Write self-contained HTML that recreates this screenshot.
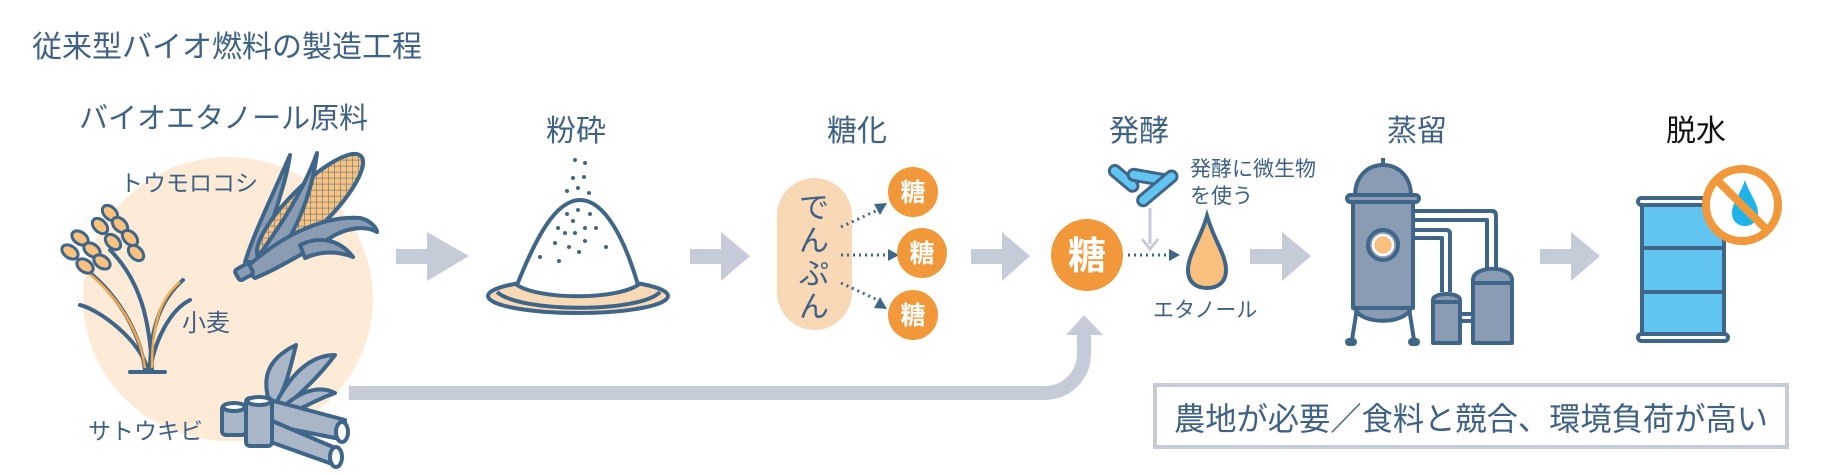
<!DOCTYPE html>
<html><head><meta charset="utf-8"><style>
html,body{margin:0;padding:0;background:#fff;}
svg{display:block}
text{font-family:"Liberation Sans","Noto Sans CJK JP",sans-serif;fill:#3f6184}
</style></head><body>
<svg width="1835" height="475" viewBox="0 0 1835 475" xmlns="http://www.w3.org/2000/svg">
<defs>
<pattern id="grid" width="6" height="6" patternUnits="userSpaceOnUse" patternTransform="rotate(45)">
<rect width="6" height="6" fill="#f9c27f"/><path d="M0 0 H6 M0 0 V6" stroke="#3f6688" stroke-width="1"/>
</pattern>
</defs>
<text x="32" y="57" font-size="30">従来型バイオ燃料の製造工程</text>
<text x="79" y="128" font-size="29">バイオエタノール原料</text>
<ellipse cx="228" cy="299" rx="145" ry="142" fill="#fdebd8"/>
<text x="120" y="191" font-size="23">トウモロコシ</text>
<text x="182" y="331" font-size="24">小麦</text>
<text x="88" y="439" font-size="23">サトウキビ</text>
<!-- corn -->
<g stroke="#3f6688" stroke-width="4" stroke-linejoin="round">
<path d="M290 155 C275 190 255 230 245 262 L262 262 C270 220 285 190 290 155 Z" fill="#8a9cb3"/>
<ellipse cx="310" cy="207" rx="72" ry="21" transform="rotate(-45 310 207)" fill="url(#grid)"/>
<path d="M317 153 C300 200 270 240 250 268 L270 268 C295 235 312 195 317 153 Z" fill="#8a9cb3"/>
<path d="M244 270 C275 240 320 215 360 218 C370 220 377 228 377 232 C365 225 345 228 330 238 C300 255 275 270 255 278 Z" fill="#8a9cb3"/>
<path d="M300 245 C320 235 340 240 353 257 C335 250 318 252 305 258 Z" fill="#8a9cb3"/>
<rect x="236" y="266" width="16" height="12" rx="3" fill="#8a9cb3" transform="rotate(-30 244 272)"/>
</g>
<!-- wheat -->
<g stroke="#3f6688" stroke-width="4" fill="none" stroke-linecap="round">
<path d="M145 370 C140 330 115 290 80 265"/>
<path d="M152 370 C150 320 140 280 110 250"/>
<path d="M150 370 C150 330 160 300 183 280"/>
<path d="M148 370 C140 340 100 310 80 305"/>
<path d="M150 370 C155 340 170 310 190 300"/>
<path d="M130 372 L165 372"/>
</g>
<g stroke="#f5a94a" stroke-width="2.5" fill="none">
<path d="M145 368 C140 330 115 292 82 268"/><path d="M152 368 C152 330 158 300 180 282"/>
</g>
<g fill="#f9c27f" stroke="#3f6688" stroke-width="3">
<ellipse cx="80" cy="238" rx="9" ry="6" transform="rotate(35 80 238)"/>
<ellipse cx="92" cy="250" rx="9" ry="6" transform="rotate(35 92 250)"/>
<ellipse cx="70" cy="252" rx="9" ry="6" transform="rotate(35 70 252)"/>
<ellipse cx="102" cy="262" rx="9" ry="6" transform="rotate(35 102 262)"/>
<ellipse cx="85" cy="266" rx="9" ry="6" transform="rotate(35 85 266)"/>
<ellipse cx="110" cy="213" rx="9" ry="6" transform="rotate(45 110 213)"/>
<ellipse cx="120" cy="225" rx="9" ry="6" transform="rotate(45 120 225)"/>
<ellipse cx="100" cy="226" rx="9" ry="6" transform="rotate(45 100 226)"/>
<ellipse cx="130" cy="238" rx="9" ry="6" transform="rotate(45 130 238)"/>
<ellipse cx="113" cy="242" rx="9" ry="6" transform="rotate(45 113 242)"/>
<ellipse cx="136" cy="253" rx="9" ry="6" transform="rotate(45 136 253)"/>
</g>
<!-- sugarcane -->
<g stroke="#3f6688" stroke-width="4" stroke-linejoin="round">
<path d="M270 405 C262 380 265 360 296 345 C290 370 285 390 275 405 Z" fill="#a9b6c8"/>
<path d="M275 405 C290 375 310 355 335 355 C320 375 300 395 280 410 Z" fill="#a9b6c8"/>
<path d="M280 410 C300 390 320 385 335 393 C315 400 300 410 285 415 Z" fill="#a9b6c8"/>
<path d="M270 400 L345 420 L345 440 L270 425 Z" fill="#a9b6c8"/>
<path d="M270 420 L340 450 L335 465 L265 440 Z" fill="#a9b6c8"/>
<ellipse cx="342" cy="432" rx="6" ry="10" fill="#fff"/>
<ellipse cx="336" cy="457" rx="6" ry="10" fill="#fff"/>
<rect x="222" y="405" width="24" height="30" rx="4" fill="#a9b6c8"/>
<ellipse cx="234" cy="407" rx="11" ry="4" fill="#fff"/>
<rect x="246" y="398" width="26" height="48" rx="4" fill="#a9b6c8"/>
<ellipse cx="259" cy="401" rx="12" ry="4" fill="#fff"/>
</g>
<!-- big arrows -->
<g fill="#c5ccd8">
<path d="M396 249 H427 V232 L469 256 L427 281 V264 H396 Z"/>
<path d="M690 249 H721 V232 L750 256 L721 281 V264 H690 Z"/>
<path d="M971 249 H1002 V232 L1030 256 L1002 281 V264 H971 Z"/>
<path d="M1250 249 H1282 V232 L1311 256 L1282 281 V264 H1250 Z"/>
<path d="M1540 249 H1571 V232 L1600 256 L1571 281 V264 H1540 Z"/>
<path d="M349 386 H1045 A32 32 0 0 0 1077 354 V335 H1066 L1084 315 L1103 335 H1091 V354 A46 46 0 0 1 1045 400 H349 Z"/>
</g>
<text x="546" y="141" font-size="30">粉砕</text>
<text x="827" y="141" font-size="30">糖化</text>
<text x="1109" y="141" font-size="30">発酵</text>
<text x="1387" y="141" font-size="30">蒸留</text>
<text x="1666" y="141" font-size="30" style="fill:#111">脱水</text>
<!-- plate & pile -->
<g stroke="#3f6688" stroke-width="4">
<ellipse cx="578" cy="296" rx="90" ry="17" fill="#f9d9b5"/>
<path d="M497 292 C520 313 640 313 660 292" fill="none"/>
<path d="M517 285 C535 240 555 200 580 200 C605 200 625 240 638 285 C615 300 540 300 517 285 Z" fill="#fff"/>
</g>
<g fill="#3f6688">
<circle cx="575" cy="160" r="2"/><circle cx="585" cy="163" r="2"/><circle cx="573" cy="178" r="2"/><circle cx="584" cy="177" r="2"/>
<circle cx="567" cy="191" r="2"/><circle cx="578" cy="188" r="2"/><circle cx="589" cy="193" r="2"/>
<circle cx="567" cy="214" r="2"/><circle cx="578" cy="210" r="2"/><circle cx="590" cy="214" r="2"/><circle cx="573" cy="221" r="2"/>
<circle cx="558" cy="228" r="2"/><circle cx="565" cy="233" r="2"/><circle cx="575" cy="233" r="2"/><circle cx="585" cy="228" r="2"/><circle cx="596" cy="228" r="2"/>
<circle cx="555" cy="243" r="2"/><circle cx="569" cy="247" r="2"/><circle cx="585" cy="241" r="2"/><circle cx="606" cy="247" r="2"/>
<circle cx="540" cy="257" r="2"/><circle cx="559" cy="261" r="2"/><circle cx="579" cy="252" r="2"/>
</g>
<!-- starch pill -->
<rect x="777" y="178" width="75" height="152" rx="37.5" fill="#f9d9b5"/>
<text x="814" y="218" font-size="30" text-anchor="middle">で</text>
<text x="814" y="251" font-size="30" text-anchor="middle">ん</text>
<text x="814" y="284" font-size="30" text-anchor="middle">ぷ</text>
<text x="814" y="317" font-size="30" text-anchor="middle">ん</text>
<g stroke="#3f6688" stroke-width="3" stroke-dasharray="2 4" fill="none">
<path d="M841 227 L880 209"/><path d="M841 255 L890 255"/><path d="M841 283 L880 301"/>
<path d="M1128 255 L1170 255"/>
</g>
<g fill="#3f6688">
<path d="M887 203 L874 204 L880 215 Z"/><path d="M899 255 L888 249 L888 261 Z"/><path d="M887 309 L880 297 L874 308 Z"/>
<path d="M1180 255 L1169 249 L1169 261 Z"/>
</g>
<g fill="#f0983a">
<circle cx="913" cy="192" r="25"/><circle cx="922" cy="253" r="25"/><circle cx="913" cy="315" r="25"/>
<circle cx="1087" cy="255" r="36"/>
</g>
<g font-size="25" text-anchor="middle" font-weight="bold">
<text x="913" y="201" style="fill:#fff">糖</text><text x="922" y="262" style="fill:#fff">糖</text><text x="913" y="324" style="fill:#fff">糖</text>
<text x="1087" y="269" font-size="38" style="fill:#fff">糖</text>
</g>
<!-- bacteria -->
<g stroke="#3f6688" stroke-width="3" fill="#62c5ef">
<rect x="1107" y="173" width="34" height="11" rx="5.5" transform="rotate(40 1124 178)"/>
<rect x="1128" y="172" width="42" height="11" rx="5.5" transform="rotate(10 1149 177)"/>
<rect x="1133" y="183" width="48" height="11" rx="5.5" transform="rotate(-40 1157 188)"/>
</g>
<text x="1190" y="176" font-size="21">発酵に微生物</text>
<text x="1190" y="203" font-size="21">を使う</text>
<path d="M1150 208 V244" stroke="#c5ccd8" stroke-width="3"/>
<path d="M1142 239 L1150 249 L1158 239" stroke="#c5ccd8" stroke-width="3" fill="none"/>
<path d="M1207 216 C1200 240 1188 255 1188 270 C1188 283 1197 288 1207 288 C1217 288 1226 283 1226 270 C1226 255 1214 240 1207 216 Z" fill="#f9bf7e" stroke="#3f6688" stroke-width="4"/>
<text x="1153" y="317" font-size="21">エタノール</text>
<!-- distiller -->
<g stroke="#3f6688" stroke-width="4" fill="#8a9cb3" stroke-linejoin="round">
<path d="M1355 196 C1355 176 1368 165 1383 165 C1398 165 1411 176 1411 196 Z"/>
<line x1="1383" y1="158" x2="1383" y2="165"/>
<path d="M1415 211 H1492 Q1496 211 1496 216 V268 M1415 220 H1487 V268" fill="none"/>
<path d="M1415 230 H1446 Q1450 230 1450 234 V292 M1415 238 H1442 V292" fill="none"/>
<rect x="1353" y="202" width="60" height="106"/>
<path d="M1355 308 C1360 325 1405 325 1411 308 Z"/>
<path d="M1357 308 L1352 340 M1409 308 L1414 340" fill="none"/>
<rect x="1347" y="340" width="8" height="4" rx="2"/><rect x="1410" y="340" width="8" height="4" rx="2"/>
<rect x="1347" y="195" width="72" height="7" rx="3.5"/>
<circle cx="1383" cy="245" r="15"/>
<circle cx="1383" cy="245" r="10" fill="#f9bf7e" stroke="#fff" stroke-width="2.5"/>
<path d="M1433 343 V300 C1433 292 1460 292 1460 300 V343 Z"/>
<line x1="1433" y1="302" x2="1460" y2="302"/>
<path d="M1473 343 V280 C1473 265 1512 265 1512 280 V343 Z"/>
<line x1="1473" y1="283" x2="1512" y2="283"/>
<path d="M1460 314 H1473 M1460 321 H1473" fill="none"/>
</g>
<!-- barrel -->
<g stroke="#3f6688" stroke-width="4" fill="#62c5ef">
<rect x="1642" y="202" width="82" height="134"/>
<line x1="1640" y1="248" x2="1726" y2="248"/><line x1="1640" y1="292" x2="1726" y2="292"/>
<rect x="1638" y="198" width="90" height="7" rx="3.5" fill="#fff"/>
<rect x="1638" y="334" width="90" height="7" rx="3.5" fill="#fff"/>
</g>
<circle cx="1742" cy="205" r="36" fill="#fff" stroke="#f0983a" stroke-width="8"/>
<path d="M1745 180 C1740 195 1732 203 1732 213 C1732 221 1738 226 1745 226 C1752 226 1758 221 1758 213 C1758 203 1750 195 1745 180 Z" fill="#1eb4ea"/>
<line x1="1717" y1="180" x2="1767" y2="230" stroke="#f0983a" stroke-width="8"/>
<!-- box -->
<rect x="1155" y="385" width="632" height="62" fill="#fff" stroke="#c5ccd8" stroke-width="4"/>
<text x="1471" y="430" font-size="32" text-anchor="middle" textLength="594" lengthAdjust="spacingAndGlyphs">農地が必要／食料と競合、環境負荷が高い</text>
</svg>
</body></html>
